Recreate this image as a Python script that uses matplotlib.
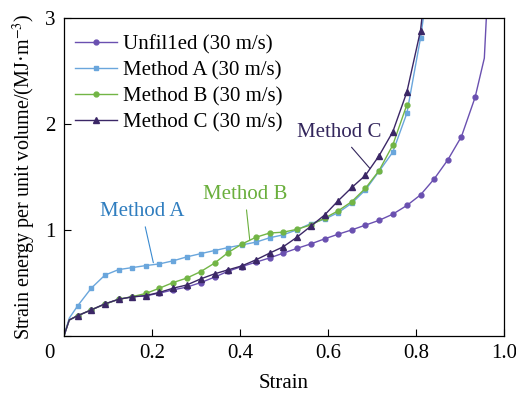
import matplotlib
matplotlib.use("Agg")
import matplotlib.pyplot as plt

plt.rcParams['font.family'] = ['Liberation Serif', 'DejaVu Serif']
plt.rcParams['mathtext.fontset'] = 'stix'

# strain at the marker positions
strain = [0.031, 0.062, 0.093, 0.124, 0.155, 0.186, 0.217, 0.248, 0.279, 0.311,
          0.342, 0.373, 0.404, 0.436, 0.467, 0.498, 0.529, 0.561, 0.592, 0.623,
          0.654, 0.685, 0.716, 0.747, 0.779, 0.810, 0.841, 0.872, 0.903, 0.934]

unfilled = [0.19, 0.245, 0.30, 0.345, 0.368, 0.378, 0.403, 0.434, 0.46, 0.503,
            0.554, 0.61, 0.654, 0.695, 0.735, 0.78, 0.825, 0.868, 0.915, 0.959,
            1.0, 1.045, 1.09, 1.148, 1.23, 1.33, 1.48, 1.66, 1.88, 2.25]
method_a = [0.283, 0.45, 0.573, 0.625, 0.644, 0.663, 0.679, 0.708, 0.745, 0.776,
            0.805, 0.833, 0.858, 0.884, 0.925, 0.953, 1.0, 1.06, 1.10, 1.163,
            1.252, 1.377, 1.553, 1.733, 2.10, 2.81]
method_b = [0.19, 0.245, 0.30, 0.345, 0.37, 0.40, 0.45, 0.503, 0.545, 0.607,
            0.686, 0.786, 0.866, 0.93, 0.97, 0.978, 1.005, 1.047, 1.11, 1.18,
            1.267, 1.393, 1.56, 1.80, 2.18]
method_c = [0.19, 0.245, 0.302, 0.345, 0.368, 0.38, 0.41, 0.45, 0.48, 0.538,
            0.585, 0.623, 0.66, 0.717, 0.78, 0.84, 0.93, 1.035, 1.14, 1.275,
            1.40, 1.515, 1.70, 1.925, 2.30, 2.88]

# start of the curves (origin and first rise) and the steep ends
start_x = [0.0, 0.012]
start_y = {"u": [0.0, 0.15], "a": [0.0, 0.167], "b": [0.0, 0.15], "c": [0.0, 0.15]}
tail_u = ([0.955, 0.962], [2.62, 3.2])
tail_a = ([0.82], [3.1])
tail_c = ([0.816], [3.1])

labels = ["Unfil1ed (30 m/s)", "Method A (30 m/s)", "Method B (30 m/s)", "Method C (30 m/s)"]
colors = ["#6a50b0", "#6aa6dc", "#72b545", "#3b2766"]
markers = ["o", "s", "o", "^"]

fig = plt.figure(figsize=(5.16, 3.97), dpi=100)
ax = fig.add_axes([0.124, 0.154, 0.853, 0.801])

series = [
    (strain[:len(unfilled)], unfilled, "u", tail_u),
    (strain[:len(method_a)], method_a, "a", tail_a),
    (strain[:len(method_b)], method_b, "b", ([], [])),
    (strain[:len(method_c)], method_c, "c", tail_c),
]

for (xs, ys, key, tail), lab, col, mk in zip(series, labels, colors, markers):
    x_all = start_x + list(xs) + tail[0]
    y_all = start_y[key] + list(ys) + tail[1]
    n0 = len(start_x)
    ax.plot(x_all, y_all, color=col, lw=1.0, marker=mk,
            markersize=4 if mk == "^" else 3.5,
            markevery=list(range(n0, n0 + len(xs))), label=lab)

ax.set_xlim(0, 1.0)
ax.set_ylim(0, 3)
ax.set_xticks([0, 0.2, 0.4, 0.6, 0.8, 1.0])
ax.set_xticklabels(["", "0.2", "0.4", "0.6", "0.8", "1.0"])
ax.set_yticks([0, 1, 2, 3])
ax.set_yticklabels(["", "1", "2", "3"])
ax.tick_params(direction="in", length=5, width=0.8, labelsize=15, pad=6)
ax.text(-0.033, -0.055, "0", transform=ax.transAxes, fontsize=15, ha="center", va="center")
for sp in ax.spines.values():
    sp.set_linewidth(0.9)

ax.set_xlabel("Strain", fontsize=15, labelpad=8)
ax.set_ylabel("Strain energy per unit volume/(MJ·m$^{-3}$)", fontsize=14.5, labelpad=5)

ax.legend(loc="upper left", bbox_to_anchor=(-0.012, 0.998), frameon=False, fontsize=15,
          handlelength=2.0, handletextpad=0.3, labelspacing=0.3, borderaxespad=0.5,
          borderpad=0.3)

ax.annotate("Method A", xy=(0.203, 0.69), xytext=(0.177, 1.17), color="#2f7dbf",
            fontsize=15, ha="center", va="center",
            arrowprops=dict(arrowstyle="-", color="#3a8ad0", lw=0.8, shrinkA=2, shrinkB=0))
ax.annotate("Method B", xy=(0.422, 0.906), xytext=(0.411, 1.33), color="#6aaf3c",
            fontsize=15, ha="center", va="center",
            arrowprops=dict(arrowstyle="-", color="#6aaf3c", lw=0.8, shrinkA=2, shrinkB=0))
ax.annotate("Method C", xy=(0.695, 1.58), xytext=(0.625, 1.915), color="#33265c",
            fontsize=15, ha="center", va="center",
            arrowprops=dict(arrowstyle="-", color="#33265c", lw=0.8, shrinkA=2, shrinkB=0))

fig.savefig("out.png", dpi=100)
